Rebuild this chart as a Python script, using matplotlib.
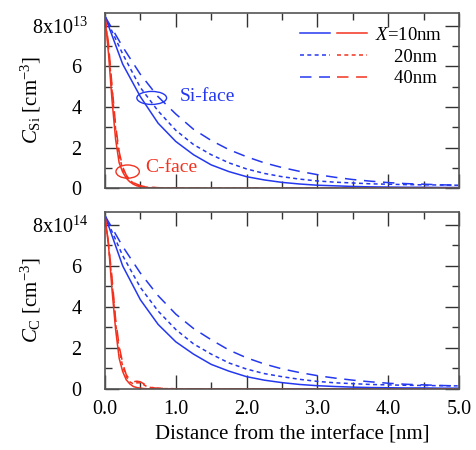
import matplotlib
matplotlib.use("Agg")
import matplotlib.pyplot as plt
from matplotlib.patches import Ellipse
from matplotlib.legend_handler import HandlerTuple
from matplotlib.ticker import MultipleLocator

plt.rcParams['font.family'] = ['Liberation Serif', 'DejaVu Serif']
plt.rcParams['mathtext.fontset'] = 'custom'
plt.rcParams['mathtext.rm'] = 'Liberation Serif'
plt.rcParams['mathtext.it'] = 'Liberation Serif:italic'

# ---- data ----
thickness_labels = ["$X$=10nm", "    20nm", "    40nm"]
x_blue = [0, 0.25, 0.5, 0.75, 1.0, 1.25, 1.5, 1.75, 2.0, 2.25, 2.5, 2.75,
          3.0, 3.25, 3.5, 3.75, 4.0, 4.25, 4.5, 4.75, 5.0]
x_red = [0, 0.05, 0.1, 0.15, 0.2, 0.25, 0.3, 0.35, 0.4, 0.45, 0.5, 0.55,
         0.6, 0.7, 0.8, 1.0, 1.5, 2.0, 3.0, 4.0, 5.0]

# Top panel: C_Si (x10^13 cm^-3)
si_top_10 = [8.45, 6.1, 4.5, 3.2, 2.3, 1.65, 1.15, 0.82, 0.57, 0.41, 0.29, 0.21,
             0.15, 0.12, 0.09, 0.07, 0.06, 0.05, 0.05, 0.04, 0.04]
si_top_20 = [8.45, 6.6, 4.95, 3.8, 2.85, 2.15, 1.65, 1.25, 0.95, 0.73, 0.57, 0.45,
             0.36, 0.3, 0.26, 0.22, 0.2, 0.18, 0.17, 0.16, 0.15]
si_top_40 = [8.45, 6.95, 5.6, 4.5, 3.65, 2.9, 2.35, 1.9, 1.55, 1.25, 1.02, 0.83,
             0.67, 0.54, 0.43, 0.35, 0.28, 0.23, 0.2, 0.17, 0.15]
c_top_10 = [8.45, 6.6, 4.3, 2.4, 1.25, 0.8, 0.5, 0.32, 0.2, 0.12, 0.08, 0.05,
            0.03, 0.02, 0.01, 0, 0, 0, 0, 0, 0]
c_top_20 = [8.45, 6.9, 4.8, 2.9, 1.6, 0.95, 0.6, 0.4, 0.26, 0.17, 0.11, 0.07,
            0.05, 0.03, 0.02, 0.01, 0, 0, 0, 0, 0]
c_top_40 = [8.45, 7.1, 5.0, 3.1, 1.8, 1.05, 0.65, 0.42, 0.28, 0.2, 0.13, 0.09,
            0.06, 0.04, 0.02, 0.01, 0, 0, 0, 0, 0]

# Bottom panel: C_C (x10^14 cm^-3)
si_bot_10 = [8.45, 6.0, 4.35, 3.15, 2.3, 1.7, 1.2, 0.87, 0.6, 0.43, 0.31, 0.22,
             0.16, 0.12, 0.09, 0.07, 0.06, 0.05, 0.05, 0.04, 0.04]
si_bot_20 = [8.45, 6.5, 4.95, 3.8, 2.9, 2.2, 1.7, 1.27, 0.97, 0.75, 0.6, 0.47,
             0.37, 0.3, 0.26, 0.22, 0.2, 0.18, 0.17, 0.16, 0.15]
si_bot_40 = [8.45, 6.95, 5.65, 4.55, 3.65, 2.95, 2.4, 1.9, 1.52, 1.22, 0.98, 0.8,
             0.65, 0.53, 0.43, 0.35, 0.28, 0.23, 0.2, 0.17, 0.15]
c_bot_10 = [8.45, 7.0, 4.8, 2.9, 1.5, 0.85, 0.45, 0.25, 0.12, 0.07, 0.04, 0.02,
            0.01, 0, 0, 0, 0, 0, 0, 0, 0]
c_bot_20 = [8.45, 7.0, 5.2, 3.2, 1.9, 1.1, 0.6, 0.35, 0.25, 0.3, 0.3, 0.2,
            0.1, 0.04, 0.02, 0.01, 0, 0, 0, 0, 0]
c_bot_40 = [8.45, 7.1, 5.4, 3.4, 2.1, 1.25, 0.7, 0.45, 0.35, 0.38, 0.35, 0.25,
            0.12, 0.05, 0.03, 0.01, 0, 0, 0, 0, 0]

xticks = [0, 1, 2, 3, 4, 5]
xtick_labels = ["0.0", "1.0", "2.0", "3.0", "4.0", "5.0"]
yticks = [0, 2, 4, 6, 8]
ytick_labels = ["0", "2", "4", "6", ""]
top_exp = "8x10$^{13}$"
bot_exp = "8x10$^{14}$"

BLUE = "#2438f0"
RED = "#f2321f"
styles = ["-", (0, (2.6, 2.2)), (0, (7.5, 5))]
FS = 14.5

fig = plt.figure(figsize=(4.77, 4.5), dpi=100)
ax1 = fig.add_axes([0.2201, 0.5816, 0.7422, 0.3902])
ax2 = fig.add_axes([0.2201, 0.1356, 0.7422, 0.3933])

def style_axis(ax, exp_label):
    ax.set_xlim(0, 5)
    ax.set_ylim(0, 8.63)
    ax.set_xticks(xticks)
    ax.xaxis.set_minor_locator(MultipleLocator(0.5))
    ax.set_yticks(yticks)
    ax.set_yticklabels(ytick_labels)
    ax.yaxis.set_minor_locator(MultipleLocator(1))
    ax.tick_params(which='both', direction='in', top=True, right=True,
                   width=1.0, color='#333333', labelsize=FS)
    ax.tick_params(which='major', length=10)
    ax.tick_params(which='minor', length=5)
    ax.tick_params(axis='y', which='major', pad=17)
    ax.tick_params(axis='x', which='major', pad=8)
    for s in ax.spines.values():
        s.set_color('#555555')
        s.set_linewidth(1.2)
    ax.annotate(exp_label, xy=(0, 8), xycoords='data', xytext=(-12, 0),
                textcoords='offset points', ha='right', va='center_baseline',
                fontsize=FS)

def draw(ax, si, c):
    hb, hr = [], []
    for ys, ls in zip(si, styles):
        l, = ax.plot(x_blue, ys, color=BLUE, lw=1.1, linestyle=ls)
        hb.append(l)
    for ys, ls in zip(c, styles):
        l, = ax.plot(x_red, ys, color=RED, lw=1.1, linestyle=ls)
        hr.append(l)
    return hb, hr

hb, hr = draw(ax1, [si_top_10, si_top_20, si_top_40], [c_top_10, c_top_20, c_top_40])
draw(ax2, [si_bot_10, si_bot_20, si_bot_40], [c_bot_10, c_bot_20, c_bot_40])

style_axis(ax1, top_exp)
style_axis(ax2, bot_exp)
ax1.set_xticklabels([])
ax2.set_xticklabels(xtick_labels)

ax1.set_ylabel("$C_{\\mathrm{Si}}$ [cm$^{-3}$]", fontsize=15)
ax2.set_ylabel("$C_{\\mathrm{C}}$ [cm$^{-3}$]", fontsize=15)
ax1.yaxis.set_label_coords(-0.175, 0.5)
ax2.yaxis.set_label_coords(-0.175, 0.5)
ax2.set_xlabel("Distance from the interface [nm]", fontsize=15)
ax2.xaxis.set_label_coords(0.53, -0.205)

# annotations
ax1.add_patch(Ellipse((0.66, 4.44), 0.42, 0.64, fill=False, edgecolor=BLUE, lw=1.0))
ax1.text(1.06, 4.49, "Si-face", color=BLUE, fontsize=14, ha='left', va='center')
ax1.add_patch(Ellipse((0.32, 0.82), 0.33, 0.65, fill=False, edgecolor=RED, lw=1.0))
ax1.text(0.565, 1.0, "C-face", color=RED, fontsize=14, ha='left', va='center')

leg = ax1.legend([(b, r) for b, r in zip(hb, hr)], thickness_labels,
                 handler_map={tuple: HandlerTuple(ndivide=None, pad=0.35)},
                 loc='upper left', frameon=False, fontsize=13.5,
                 handlelength=3.6, handletextpad=0.4, labelspacing=0.25,
                 borderaxespad=0.0, borderpad=0.0,
                 bbox_to_anchor=(0.55, 0.92))

fig.savefig("out.png", dpi=100)
